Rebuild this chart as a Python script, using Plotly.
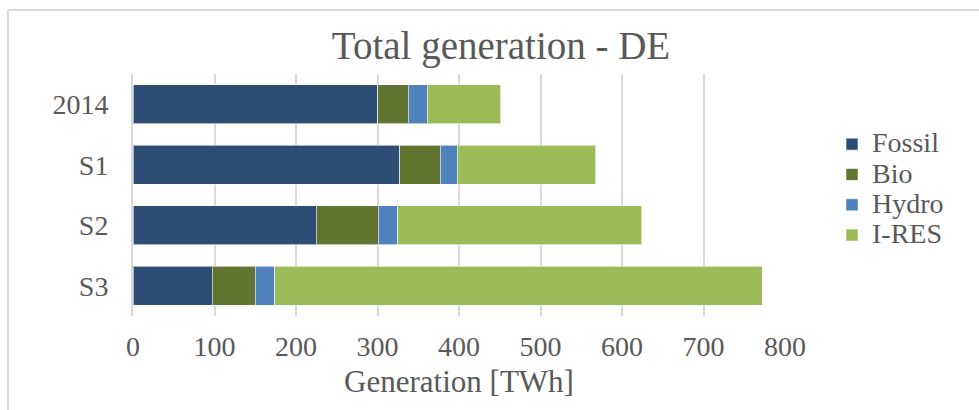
import plotly.graph_objects as go

# Generation by source and scenario (TWh)
categories = ["2014", "S1", "S2", "S3"]
fossil = [300, 327, 225, 97]
bio = [38, 50, 76, 53]
hydro = [23, 21, 24, 24]
ires = [90, 170, 299, 598]

series_names = ["Fossil", "Bio", "Hydro", "I-RES"]
series_values = [fossil, bio, hydro, ires]
series_colors = ["#2E4D75", "#627530", "#4F81BD", "#9BBB59"]

FONT = "Liberation Serif"
TEXT = "#595959"
GRID = "#D9D9D9"

W, H = 979, 410
ML, MR, MT, MB = 133, 194, 74, 94

fig = go.Figure()
for name, vals, col in zip(series_names, series_values, series_colors):
    fig.add_trace(go.Bar(
        y=categories, x=vals, name=f"<span style='font-size:28px'>{name}</span>",
        orientation="h",
        marker=dict(color=col, line=dict(color="rgba(255,255,255,0.6)", width=1)),
    ))

# chart-area frame (top and left edges)
pw, ph = W - ML - MR, H - MT - MB
def px_x(p):
    return (p - ML) / pw
def px_y(p):
    return (H - MB - p) / ph

frame = dict(type="line", xref="paper", yref="paper",
             line=dict(color=GRID, width=2), layer="below")
fig.add_shape(**frame, x0=px_x(8), x1=px_x(990), y0=px_y(10), y1=px_y(10))
fig.add_shape(**frame, x0=px_x(8), x1=px_x(8), y0=px_y(10), y1=px_y(420))

fig.update_layout(
    width=W, height=H,
    margin=dict(l=ML, r=MR, t=MT, b=MB),
    barmode="stack", bargap=0.35,
    paper_bgcolor="white", plot_bgcolor="white",
    font=dict(family=FONT, color=TEXT),
    title=dict(text="Total generation - DE", x=501 / W, xanchor="center",
               y=1 - 45 / H, yanchor="middle",
               font=dict(family=FONT, size=39, color=TEXT)),
    xaxis=dict(range=[0, 800], dtick=100, showgrid=True, gridcolor=GRID, gridwidth=2,
               zeroline=False, showline=False, ticks="",
               ticklabelstandoff=11,
               tickfont=dict(family=FONT, size=28, color=TEXT),
               title=dict(text="Generation [TWh]", standoff=9,
                          font=dict(family=FONT, size=31, color=TEXT))),
    yaxis=dict(autorange="reversed", showgrid=False, zeroline=False,
               showline=True, linecolor=GRID, linewidth=2, ticks="",
               ticklabelstandoff=17,
               tickfont=dict(family=FONT, size=28, color=TEXT)),
    legend=dict(x=px_x(832), xanchor="left", y=px_y(124), yanchor="top",
                font=dict(family=FONT, size=21, color=TEXT),
                traceorder="normal", bgcolor="rgba(0,0,0,0)", itemwidth=30),
    showlegend=True,
)

fig.write_html("out.html")
